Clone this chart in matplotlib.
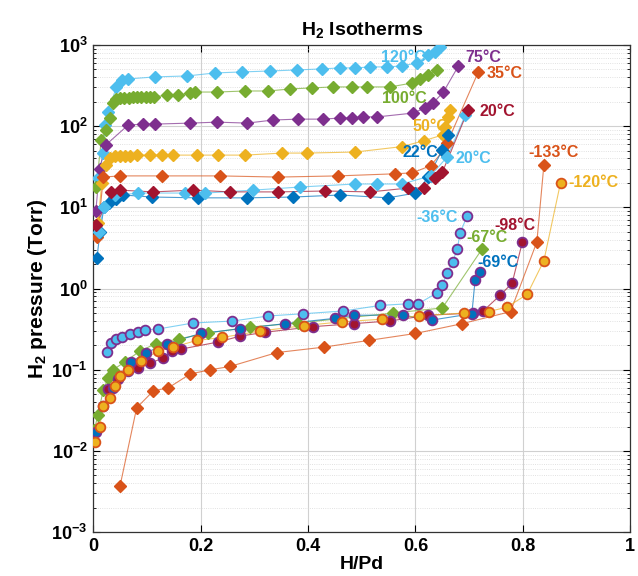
import matplotlib
matplotlib.use("Agg")
import matplotlib.pyplot as plt
from matplotlib.ticker import FuncFormatter, NullFormatter, FixedLocator

plt.rcParams["font.family"] = ["Liberation Sans", "DejaVu Sans"]
plt.rcParams["font.weight"] = "bold"
plt.rcParams["mathtext.fontset"] = "custom"
plt.rcParams["mathtext.rm"] = "Liberation Sans:bold"
plt.rcParams["mathtext.it"] = "Liberation Sans:bold:italic"
plt.rcParams["mathtext.bf"] = "Liberation Sans:bold"
plt.rcParams["mathtext.default"] = "rm"

# MATLAB default colours
BLUE = "#0072BD"
ORANGE = "#D95319"
YELLOW = "#EDB120"
PURPLE = "#7E2F8E"
GREEN = "#77AC30"
CYAN = "#4DBEEE"
RED = "#A2142F"

# ==================== data (H/Pd, Torr) ====================
x_120 = [0.009, 0.019, 0.022, 0.028, 0.043, 0.054, 0.065, 0.115, 0.175, 0.227, 0.277, 0.33,
         0.38, 0.426, 0.46, 0.488, 0.516, 0.547, 0.575, 0.603, 0.624, 0.637, 0.646]
y_120 = [23, 47, 104, 150, 300, 372, 381, 404, 415, 452, 465, 478,
         492, 507, 521, 521, 536, 536, 551, 600, 753, 820, 945]

x_100 = [0.006, 0.015, 0.024, 0.032, 0.037, 0.043, 0.05, 0.058, 0.066, 0.074, 0.082, 0.09,
         0.098, 0.106, 0.114, 0.138, 0.158, 0.181, 0.19, 0.231, 0.283, 0.326, 0.367, 0.408,
         0.447, 0.482, 0.51, 0.553, 0.594, 0.609, 0.624, 0.641]
y_100 = [18, 67, 90, 126, 193, 216, 222, 225, 225, 226, 227, 228,
         228, 229, 229, 242, 242, 256, 263, 263, 271, 271, 287, 296,
         304, 304, 304, 304, 340, 381, 427, 492]

x_75 = [0.005, 0.012, 0.024, 0.065, 0.093, 0.115, 0.181, 0.231, 0.287, 0.335, 0.382, 0.428,
        0.46, 0.482, 0.503, 0.529, 0.596, 0.618, 0.633, 0.652, 0.68]
y_75 = [9, 30, 59, 103, 106, 106, 109, 112, 109, 119, 122, 122,
        126, 126, 130, 130, 145, 168, 193, 263, 551]

x_50 = [0.009, 0.016, 0.024, 0.032, 0.041, 0.05, 0.06, 0.069, 0.082, 0.106, 0.128, 0.149,
        0.194, 0.233, 0.283, 0.352, 0.398, 0.488, 0.575, 0.615, 0.651, 0.655, 0.661, 0.665]
y_50 = [6.4, 20, 33, 40.5, 43, 43, 43, 43, 44, 44, 44, 44,
        44, 44, 44, 46.6, 46.6, 48, 56, 66, 78, 98, 128, 158]

x_35 = [0.008, 0.019, 0.05, 0.128, 0.236, 0.344, 0.456, 0.562, 0.594, 0.628, 0.652, 0.659, 0.717]
y_35 = [4.3, 23.6, 24.4, 24.4, 24.4, 23.6, 24.4, 25.9, 26.6, 32.5, 50, 62, 465]

x_22 = [0.007, 0.013, 0.02, 0.03, 0.043, 0.056, 0.11, 0.196, 0.287, 0.372, 0.46, 0.549,
        0.6, 0.624, 0.65, 0.661]
y_22 = [2.4, 5, 10, 11.3, 12.7, 14.2, 13.4, 13.1, 13.1, 13.4, 14.2, 13.1,
        15, 23.6, 51, 78]

x_20b = [0.01, 0.02, 0.04, 0.084, 0.171, 0.209, 0.298, 0.385, 0.488, 0.529, 0.575, 0.628, 0.659, 0.693]
y_20b = [5, 10, 14, 15, 15, 15, 16.3, 17.8, 19.4, 19.4, 19.4, 24.4, 41.8, 137]

x_20r = [0.006, 0.034, 0.05, 0.112, 0.186, 0.255, 0.344, 0.432, 0.516, 0.587, 0.615, 0.637, 0.65, 0.698]
y_20r = [6, 15.5, 16.3, 15.5, 16.3, 15.5, 15.5, 15.9, 15.5, 17.3, 17.3, 23, 27, 158]

x_m36 = [0.025, 0.034, 0.043, 0.053, 0.068, 0.084, 0.097, 0.121, 0.186, 0.259, 0.326, 0.391,
         0.466, 0.534, 0.587, 0.605, 0.641, 0.65, 0.659, 0.669, 0.678, 0.683, 0.696]
y_m36 = [0.166, 0.214, 0.24, 0.254, 0.276, 0.292, 0.31, 0.318, 0.377, 0.398, 0.46, 0.49,
         0.53, 0.62, 0.65, 0.65, 0.89, 1.1, 1.56, 2.1, 3.1, 4.8, 7.8]

x_m67 = [0.002, 0.009, 0.019, 0.028, 0.037, 0.059, 0.087, 0.117, 0.159, 0.214, 0.292, 0.382,
         0.559, 0.65, 0.724]
y_m67 = [0.018, 0.028, 0.057, 0.079, 0.1, 0.125, 0.17, 0.21, 0.24, 0.284, 0.336, 0.377,
         0.5, 0.577, 3.07]

x_m69 = [0.005, 0.019, 0.037, 0.071, 0.099, 0.137, 0.2, 0.274, 0.357, 0.45, 0.485, 0.577,
         0.631, 0.705, 0.711, 0.72]
y_m69 = [0.017, 0.036, 0.06, 0.125, 0.163, 0.21, 0.28, 0.32, 0.37, 0.43, 0.47, 0.47,
         0.41, 0.49, 1.28, 1.6]

x_m98 = [0.028, 0.047, 0.065, 0.084, 0.106, 0.13, 0.146, 0.164, 0.233, 0.274, 0.32, 0.41,
         0.485, 0.553, 0.624, 0.708, 0.726, 0.758, 0.78, 0.799]
y_m98 = [0.058, 0.078, 0.096, 0.104, 0.12, 0.14, 0.17, 0.18, 0.22, 0.26, 0.29, 0.34,
         0.37, 0.4, 0.47, 0.5, 0.53, 0.83, 1.17, 3.75]

x_m133 = [0.05, 0.081, 0.112, 0.14, 0.181, 0.218, 0.255, 0.342, 0.429, 0.513, 0.6, 0.687,
          0.777, 0.826, 0.839]
y_m133 = [0.0037, 0.034, 0.055, 0.06, 0.089, 0.1, 0.11, 0.163, 0.19, 0.23, 0.28, 0.37,
          0.52, 3.75, 33]

x_m120 = [0.004, 0.012, 0.019, 0.031, 0.04, 0.05, 0.065, 0.09, 0.121, 0.149, 0.193, 0.24,
          0.311, 0.392, 0.463, 0.538, 0.606, 0.69, 0.736, 0.77, 0.808, 0.839, 0.87]
y_m120 = [0.013, 0.02, 0.036, 0.045, 0.063, 0.084, 0.1, 0.13, 0.17, 0.19, 0.23, 0.25,
          0.3, 0.35, 0.39, 0.42, 0.46, 0.5, 0.52, 0.59, 0.85, 2.2, 20]

x_ticks = [0, 0.2, 0.4, 0.6, 0.8, 1]
y_ticks = [1e-3, 1e-2, 1e-1, 1e0, 1e1, 1e2, 1e3]
y_labels = ["$10^{-3}$", "$10^{-2}$", "$10^{-1}$", "$10^{0}$", "$10^{1}$", "$10^{2}$", "$10^{3}$"]

# ==================== figure ====================
fig = plt.figure(figsize=(6.38, 5.76), dpi=100)
ax = fig.add_axes([0.146, 0.076, 0.842, 0.846])


def diamonds(x, y, color):
    ax.plot(x, y, "-", color=color, lw=0.8, alpha=0.7, zorder=2)
    ax.plot(x, y, "D", color=color, ms=5.8, mec=color, zorder=3)


def circles(x, y, face, edge):
    ax.plot(x, y, "-", color=face, lw=0.8, alpha=0.7, zorder=2)
    ax.plot(x, y, "o", mfc=face, mec=edge, mew=1.3, ms=7, zorder=4)


diamonds(x_120, y_120, CYAN)
diamonds(x_100, y_100, GREEN)
diamonds(x_75, y_75, PURPLE)
diamonds(x_50, y_50, YELLOW)
diamonds(x_35, y_35, ORANGE)
diamonds(x_22, y_22, BLUE)
diamonds(x_20b, y_20b, CYAN)
diamonds(x_20r, y_20r, RED)

diamonds(x_m67, y_m67, GREEN)
diamonds(x_m133, y_m133, ORANGE)
circles(x_m36, y_m36, CYAN, PURPLE)
circles(x_m98, y_m98, RED, PURPLE)
circles(x_m69, y_m69, BLUE, PURPLE)
circles(x_m120, y_m120, YELLOW, ORANGE)

# temperature labels
lab = dict(fontsize=11.5, fontweight="bold", va="center")
ax.text(0.62, 700, "120°C", color=CYAN, ha="right", **lab)
ax.text(0.693, 700, "75°C", color=PURPLE, ha="left", **lab)
ax.text(0.732, 440, "35°C", color=ORANGE, ha="left", **lab)
ax.text(0.58, 222, "100°C", color=GREEN, ha="center", **lab)
ax.text(0.72, 150, "20°C", color=RED, ha="left", **lab)
ax.text(0.628, 98, "50°C", color=YELLOW, ha="center", **lab)
ax.text(0.609, 48, "22°C", color=BLUE, ha="center", **lab)
ax.text(0.675, 40, "20°C", color=CYAN, ha="left", **lab)
ax.text(0.857, 48, "-133°C", color=ORANGE, ha="center", **lab)
ax.text(0.885, 20, "-120°C", color=YELLOW, ha="left", **lab)
ax.text(0.64, 7.6, "-36°C", color=CYAN, ha="center", **lab)
ax.text(0.786, 5.9, "-98°C", color=RED, ha="center", **lab)
ax.text(0.734, 4.3, "-67°C", color=GREEN, ha="center", **lab)
ax.text(0.754, 2.1, "-69°C", color=BLUE, ha="center", **lab)

# axes styling
ax.set_yscale("log")
ax.set_xlim(0, 1)
ax.set_ylim(1e-3, 1e3)
ax.set_xticks(x_ticks)
ax.xaxis.set_major_formatter(FuncFormatter(lambda v, p: "%g" % v))
ax.set_yticks(y_ticks)
ax.set_yticklabels(y_labels)
minor = [m * d for d in y_ticks[:-1] for m in range(2, 10)]
ax.yaxis.set_minor_locator(FixedLocator(minor))
ax.yaxis.set_minor_formatter(NullFormatter())
ax.tick_params(which="both", direction="in", top=True, right=True, labelsize=13)
ax.tick_params(which="major", length=5, pad=4)
ax.tick_params(which="minor", length=2.5)
ax.grid(True, which="major", color="#d0d0d0", lw=0.8)
ax.grid(True, which="minor", axis="y", color="#d8d8d8", lw=0.6, ls=":")
ax.set_axisbelow(True)
for s in ax.spines.values():
    s.set_color("#333333")
    s.set_linewidth(0.9)

ax.set_title("H$_2$ Isotherms", fontsize=14, fontweight="bold", pad=7)
ax.set_xlabel("H/Pd", fontsize=14, fontweight="bold", labelpad=1)
ax.set_ylabel("H$_2$ pressure (Torr)", fontsize=15, fontweight="bold", labelpad=2)

plt.savefig("out.png", dpi=100)
